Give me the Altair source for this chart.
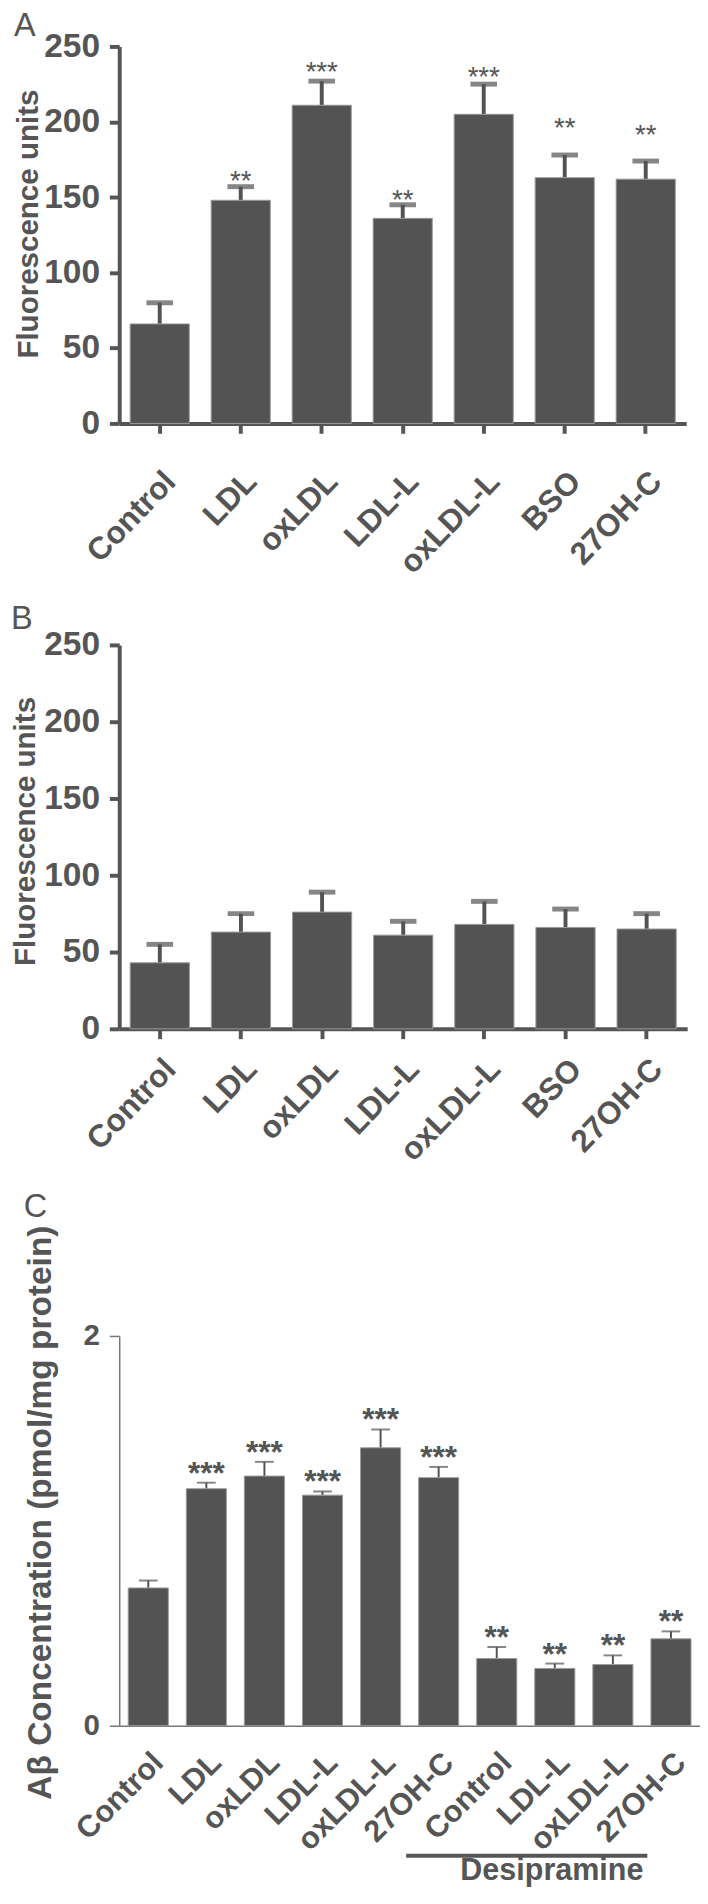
import altair as alt
import pandas as pd

# ---------------- data ----------------
cats_ab = ["Control", "LDL", "oxLDL", "LDL-L", "oxLDL-L", "BSO", "27OH-C"]

a_mean = [66, 148, 211, 136, 205, 163, 162]
a_err = [14, 9, 16, 9, 20, 15, 12]
a_stars = ["", "**", "***", "**", "***", "**", "**"]
a_star_level = [0, 155, 227, 142, 224, 190, 185]

b_mean = [43, 63, 76, 61, 68, 66, 65]
b_err = [12, 12, 13, 9, 15, 12, 10]

c_labels = ["Control", "LDL", "oxLDL", "LDL-L", "oxLDL-L", "27OH-C",
            "Control", "LDL-L", "oxLDL-L", "27OH-C"]
c_group = ["", "", "", "", "", "", "D", "D", "D", "D"]
c_mean = [0.707, 1.216, 1.281, 1.183, 1.426, 1.273, 0.345, 0.294, 0.314, 0.446]
c_err = [0.038, 0.031, 0.073, 0.019, 0.094, 0.055, 0.059, 0.025, 0.047, 0.038]
c_stars = ["", "***", "***", "***", "***", "***", "**", "**", "**", "**"]
bracket_label = "Desipramine"

# ---------------- style ----------------
FONT = "Liberation Sans, Arial, sans-serif"
NARROW = "Liberation Sans Narrow, Arial Narrow, Liberation Sans, sans-serif"
GREY = "#555555"
BAR = "#535353"
EDGE = "#9a9a9a"


def letter_layer(letter, lx, ly):
    return alt.Chart(pd.DataFrame({"t": [letter]})).mark_text(
        font=FONT, fontSize=33, color=GREY, align="left", baseline="top"
    ).encode(text="t:N", x=alt.value(lx), y=alt.value(ly))


def ab_panel(letter, means, errs, stars, star_levels, width, height,
             lx, ly, title_x, title_y, label_pad):
    df = pd.DataFrame({"cat": cats_ab, "mean": means, "err": errs})
    df["top"] = df["mean"] + df["err"]
    if stars is not None:
        df["star"] = stars
        df["slev"] = star_levels
    xs = alt.Scale(domain=cats_ab, paddingInner=0.27, paddingOuter=0.135)
    xa = alt.Axis(title=None, labelAngle=-46, labelAlign="right", labelBaseline="top",
                  labelFont=NARROW, labelFontSize=32, labelFontWeight="bold", labelColor=GREY,
                  labelPadding=label_pad, domainColor=GREY, domainWidth=4, tickColor=GREY,
                  tickWidth=4, tickSize=10)
    ys = alt.Scale(domain=[0, 250], nice=False, zero=True)
    ya = alt.Axis(values=[0, 50, 100, 150, 200, 250], title="Fluorescence units",
                  titleFont=FONT, titleFontSize=30, titleFontWeight="bold", titleColor=GREY,
                  titleBaseline="middle", titleX=title_x, titleY=title_y,
                  labelFont=NARROW, labelFontSize=34, labelFontWeight="bold",
                  labelColor=GREY, labelPadding=10, domainColor=GREY, domainWidth=4,
                  tickColor=GREY, tickWidth=4, tickSize=10, grid=False)

    def X():
        return alt.X("cat:N", sort=cats_ab, scale=xs, axis=xa)

    def Y(f):
        return alt.Y(f + ":Q", scale=ys, axis=ya)

    base = alt.Chart(df)
    bars = base.mark_bar(color=BAR, stroke=EDGE, strokeWidth=1).encode(x=X(), y=Y("mean"))
    stem = base.mark_rule(color=BAR, strokeWidth=4).encode(x=X(), y=Y("mean"), y2="top:Q")
    cap = base.mark_tick(color=BAR, size=27, thickness=5).encode(x=X(), y=Y("top"))
    layers = [stem, cap, bars]
    if stars is not None:
        st = base.transform_filter("datum.star != ''").mark_text(
            font=FONT, fontSize=28, color=GREY, baseline="alphabetic"
        ).encode(x=X(), y=Y("slev"), text="star:N")
        layers.append(st)
    layers.append(letter_layer(letter, lx, ly))
    return alt.layer(*layers).properties(width=width, height=height)


chart_a = ab_panel("A", a_mean, a_err, a_stars, a_star_level, 576, 383,
                   lx=-107, ly=-37, title_x=-92, title_y=180, label_pad=33)
chart_b = ab_panel("B", b_mean, b_err, None, None, 577, 390,
                   lx=-110, ly=-42, title_x=-95, title_y=189, label_pad=15)

# ---------------- panel C ----------------
c_keys = [f"{l}|{g}" for l, g in zip(c_labels, c_group)]
dfc = pd.DataFrame({"key": c_keys, "mean": c_mean, "err": c_err, "star": c_stars})
dfc["top"] = dfc["mean"] + dfc["err"]

WC, HC = 590, 396
xsc = alt.Scale(domain=c_keys, paddingInner=0.31, paddingOuter=0.155)
xac = alt.Axis(title=None, labelAngle=-45, labelAlign="right", labelBaseline="top",
               labelExpr="split(datum.value, '|')[0]", labelFont=FONT, labelFontSize=31,
               labelFontWeight="bold", labelColor=GREY, labelPadding=22, ticks=False,
               domainColor="#777777", domainWidth=1.5)
ysc = alt.Scale(domain=[0, 2], nice=False, zero=True)
yac = alt.Axis(values=[0, 1, 2], format="d", title="Aβ Concentration (pmol/mg protein)",
               titleFont=FONT, titleFontSize=34, titleFontWeight="bold", titleColor=GREY,
               titleBaseline="middle", titleX=-80, titleY=179,
               labelFont=FONT, labelFontSize=30, labelFontWeight="bold", labelColor=GREY,
               labelPadding=10, domainColor="#777777", domainWidth=1.5, tickColor="#777777",
               tickWidth=1.5, tickSize=10, grid=False)


def XC(f="key"):
    return alt.X(f + ":N", sort=c_keys, scale=xsc, axis=xac)


def YC(f):
    return alt.Y(f + ":Q", scale=ysc, axis=yac)


basec = alt.Chart(dfc)
bars_c = basec.mark_bar(color=BAR, stroke=EDGE, strokeWidth=1).encode(x=XC(), y=YC("mean"))
stem_c = basec.mark_rule(color=BAR, strokeWidth=2).encode(x=XC(), y=YC("mean"), y2="top:Q")
cap_c = basec.mark_tick(color=BAR, size=19, thickness=2).encode(x=XC(), y=YC("top"))
star_c = basec.transform_filter("datum.star != ''").mark_text(
    font=FONT, fontSize=32, fontWeight="bold", color=GREY, baseline="alphabetic", dy=1
).encode(x=XC(), y=YC("top"), text="star:N")

dfbr = pd.DataFrame({"key": [c_keys[6]], "key_end": [c_keys[9]],
                     "mid": [c_keys[7]], "label": [bracket_label]})
bracket = alt.Chart(dfbr).mark_rule(color=GREY, strokeWidth=4, xOffset=-92, x2Offset=-24).encode(
    x=XC(), x2="key_end:N", y=alt.value(HC + 132)
)
bracket_text = alt.Chart(dfbr).mark_text(
    font=FONT, fontSize=31, fontWeight="bold", color=GREY, baseline="middle", dx=-3
).encode(x=XC("mid"), y=alt.value(HC + 148), text="label:N")

chart_c = alt.layer(stem_c, cap_c, bars_c, star_c, bracket, bracket_text,
                    letter_layer("C", -97, -147)).properties(width=WC, height=HC)

chart = alt.concat(chart_a, chart_b, chart_c, columns=1, spacing=25, align="none").properties(
    padding={"left": 3, "top": -13, "right": 0, "bottom": 0}
).configure_view(stroke=None)

chart.save("out.html", embed_options={"renderer": "svg", "actions": False})
